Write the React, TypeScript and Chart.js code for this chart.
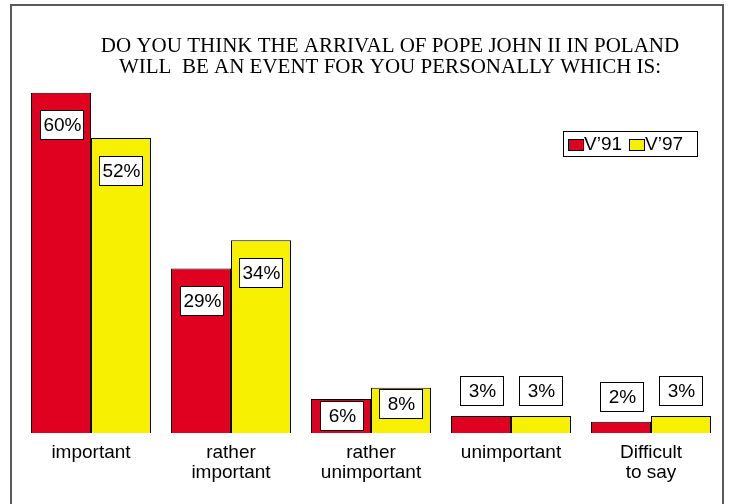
import React, { useEffect, useRef } from "react";
import { Chart, registerables } from "chart.js";

Chart.register(...registerables);

const categories: (string | string[])[] = [
  "important",
  ["rather", "important"],
  ["rather", "unimportant"],
  "unimportant",
  ["Difficult", "to say"],
];
const seriesNames = ["V\u201991", "V\u201997"];
const v91 = [60, 29, 6, 3, 2];
const v97 = [52, 34, 8, 3, 3];
const titleLines = [
  "DO YOU THINK THE ARRIVAL OF POPE JOHN II IN POLAND",
  "WILL  BE AN EVENT FOR YOU PERSONALLY WHICH IS:",
];

const RED = "#E0001F";
const YELLOW = "#F7F000";
const SANS = "Arial, 'Liberation Sans', sans-serif";
const SERIF = "'Times New Roman', 'Liberation Serif', serif";

const decorPlugin = {
  id: "decor",
  beforeDraw(chart: any) {
    const ctx = chart.ctx;
    ctx.save();
    ctx.fillStyle = "#fff";
    ctx.fillRect(0, 0, chart.width, chart.height);
    ctx.strokeStyle = "#5a5a5a";
    ctx.lineWidth = 2;
    ctx.beginPath();
    ctx.moveTo(11, chart.height);
    ctx.lineTo(11, 5);
    ctx.lineTo(723, 5);
    ctx.lineTo(723, chart.height);
    ctx.stroke();
    ctx.restore();
  },
  afterDraw(chart: any) {
    const ctx = chart.ctx;
    ctx.save();
    // title
    ctx.fillStyle = "#000";
    ctx.font = `21px ${SERIF}`;
    ctx.textAlign = "center";
    ctx.textBaseline = "alphabetic";
    titleLines.forEach((t, i) => ctx.fillText(t, 390, 52 + i * 21));

    // legend
    const lx = 563, ly = 131, lw = 134, lh = 25;
    ctx.fillStyle = "#fff";
    ctx.fillRect(lx, ly, lw, lh);
    ctx.strokeStyle = "#000";
    ctx.lineWidth = 1;
    ctx.strokeRect(lx + 0.5, ly + 0.5, lw, lh);
    ctx.font = `19px ${SANS}`;
    ctx.textAlign = "left";
    ctx.textBaseline = "middle";
    const items = [
      { x: lx + 5, c: RED, t: seriesNames[0] },
      { x: lx + 66, c: YELLOW, t: seriesNames[1] },
    ];
    items.forEach((it) => {
      ctx.fillStyle = it.c;
      ctx.fillRect(it.x, ly + 8, 15, 11);
      ctx.strokeStyle = "#000";
      ctx.strokeRect(it.x + 0.5, ly + 8.5, 15, 11);
      ctx.fillStyle = "#000";
      ctx.fillText(it.t, it.x + 16, ly + 14);
    });

    // value boxes
    const bw = 43, bh = 29;
    chart.data.datasets.forEach((ds: any, di: number) => {
      const meta = chart.getDatasetMeta(di);
      meta.data.forEach((bar: any, i: number) => {
        const v = ds.data[i];
        const top = bar.y;
        let cy: number;
        if (v >= 20) cy = top + 32;
        else if (v >= 5) cy = top + 16;
        else cy = top - 11 - bh / 2;
        const x0 = Math.round(bar.x - bw / 2);
        const y0 = Math.round(cy - bh / 2);
        ctx.fillStyle = "#fff";
        ctx.fillRect(x0, y0, bw, bh);
        ctx.strokeStyle = "#000";
        ctx.lineWidth = 1;
        ctx.strokeRect(x0 + 0.5, y0 + 0.5, bw, bh);
        ctx.fillStyle = "#000";
        ctx.font = `19px ${SANS}`;
        ctx.textAlign = "center";
        ctx.textBaseline = "middle";
        ctx.fillText(`${v}%`, x0 + bw / 2 + 1, y0 + bh / 2 + 1);
      });
    });
    ctx.restore();
  },
};

export default function App() {
  const ref = useRef<HTMLCanvasElement | null>(null);
  useEffect(() => {
    if (!ref.current) return;
    const chart = new Chart(ref.current, {
      type: "bar",
      data: {
        labels: categories,
        datasets: [
          {
            label: seriesNames[0],
            data: v91,
            backgroundColor: RED,
            borderColor: "#000",
            borderWidth: 1,
            categoryPercentage: 0.857,
            barPercentage: 1,
          },
          {
            label: seriesNames[1],
            data: v97,
            backgroundColor: YELLOW,
            borderColor: "#000",
            borderWidth: 1,
            categoryPercentage: 0.857,
            barPercentage: 1,
          },
        ],
      },
      options: {
        responsive: false,
        animation: false,
        devicePixelRatio: 1,
        layout: { padding: { left: 21, right: 8, top: 87, bottom: 11 } },
        plugins: {
          legend: { display: false },
          title: { display: false },
          tooltip: { enabled: false },
        },
        scales: {
          x: {
            grid: { display: false, drawTicks: false },
            border: { display: false },
            ticks: {
              color: "#000",
              font: { family: SANS, size: 19, lineHeight: 1.05 },
              padding: 10,
              maxRotation: 0,
              autoSkip: false,
            },
          },
          y: { display: false, min: 0, max: 61 },
        },
      },
      plugins: [decorPlugin],
    });
    return () => chart.destroy();
  }, []);
  return (
    <div style={{ position: "fixed", left: 0, top: 0, width: 729, height: 504, background: "#fff" }}>
      <canvas ref={ref} width={729} height={504} style={{ width: 729, height: 504, display: "block" }} />
    </div>
  );
}
